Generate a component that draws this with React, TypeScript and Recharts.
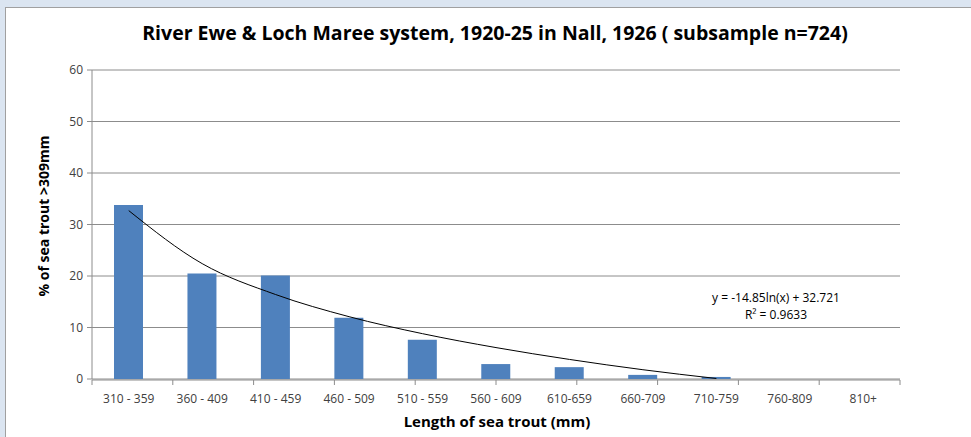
import { Bar, ComposedChart, CartesianGrid, Line, XAxis, YAxis } from "recharts";

const LENGTH_BANDS = [
  "310 - 359",
  "360 - 409",
  "410 - 459",
  "460 - 509",
  "510 - 559",
  "560 - 609",
  "610-659",
  "660-709",
  "710-759",
  "760-809",
  "810+",
];
const PCT_SEA_TROUT = [33.8, 20.5, 20.1, 11.9, 7.6, 2.9, 2.3, 0.8, 0.4, 0, 0];
// log trendline at each band centre
const TREND = [32.7, 22.4, 16.4, 12.1, 8.8, 6.1, 3.8, 1.8, 0.1, null, null];
const Y_TICKS = [0, 10, 20, 30, 40, 50, 60];
const EDGE_TICKS = [0, 1, 2, 3, 4, 5, 6, 7, 8, 9, 10, 11];

const FONT = '"Open Sans", sans-serif';
const TICK = { fill: "#404040", fontSize: 12, fontFamily: FONT };
const GREY = "#8c8c8c";

const data = LENGTH_BANDS.map((band, i) => ({
  band,
  pct: PCT_SEA_TROUT[i],
  trend: TREND[i],
}));

export default function App() {
  return (
    <div
      style={{
        position: "absolute",
        left: 0,
        top: 0,
        width: 971,
        height: 437,
        background: "#dbe5f1",
        fontFamily: FONT,
      }}
    >
      <div
        style={{
          position: "absolute",
          left: 5,
          top: 7,
          width: 966,
          height: 430,
          background: "#fff",
          borderLeft: "1px solid #a0a0a0",
          borderTop: "1px solid #a0a0a0",
          boxSizing: "border-box",
        }}
      >
        <div
          style={{
            position: "absolute",
            left: 0,
            width: 978,
            top: 11,
            textAlign: "center",
            fontWeight: "bold",
            fontSize: 19.5,
            color: "#000",
          }}
        >
          River Ewe &amp; Loch Maree system, 1920-25 in Nall, 1926 ( subsample n=724)
        </div>
        <div style={{ position: "absolute", left: 37, top: 208, width: 0, height: 0 }}>
          <div
            style={{
              position: "absolute",
              transform: "translate(-50%, -50%) rotate(-90deg)",
              whiteSpace: "nowrap",
              fontWeight: "bold",
              fontSize: 14,
            }}
          >
            % of sea trout &gt;309mm
          </div>
        </div>
        <div
          style={{
            position: "absolute",
            left: 0,
            width: 982,
            top: 403,
            textAlign: "center",
            fontWeight: "bold",
            fontSize: 15,
          }}
        >
          Length of sea trout (mm)
        </div>
        <div
          style={{
            position: "absolute",
            left: 680,
            width: 180,
            top: 281,
            textAlign: "center",
            fontSize: 12,
            lineHeight: "17px",
            color: "#000",
          }}
        >
          <div>y = -14.85ln(x) + 32.721</div>
          <div>R² = 0.9633</div>
        </div>
        <ComposedChart
          width={965}
          height={429}
          data={data}
          margin={{ top: 62, right: 71, bottom: 56, left: 0 }}
          style={{ position: "absolute", left: 0, top: 0 }}
        >
          <CartesianGrid vertical={false} stroke={GREY} />
          <XAxis
            xAxisId="edges"
            type="number"
            domain={[0, 11]}
            ticks={EDGE_TICKS}
            allowDataOverflow
            height={1}
            tick={() => <g />}
            tickSize={5}
            axisLine={{ stroke: GREY }}
            tickLine={{ stroke: GREY }}
          />
          <XAxis
            dataKey="band"
            height={1}
            axisLine={false}
            tickLine={false}
            tickMargin={9}
            interval={0}
            tick={TICK}
          />
          <YAxis
            domain={[0, 60]}
            ticks={Y_TICKS}
            width={86}
            tick={TICK}
            tickSize={5}
            tickMargin={4}
            axisLine={{ stroke: GREY }}
            tickLine={{ stroke: GREY }}
          />
          <Bar dataKey="pct" fill="#4f81bd" barSize={29} isAnimationActive={false} />
          <Line
            dataKey="trend"
            type="monotone"
            stroke="#000"
            strokeWidth={1}
            dot={false}
            activeDot={false}
            isAnimationActive={false}
          />
        </ComposedChart>
      </div>
    </div>
  );
}
